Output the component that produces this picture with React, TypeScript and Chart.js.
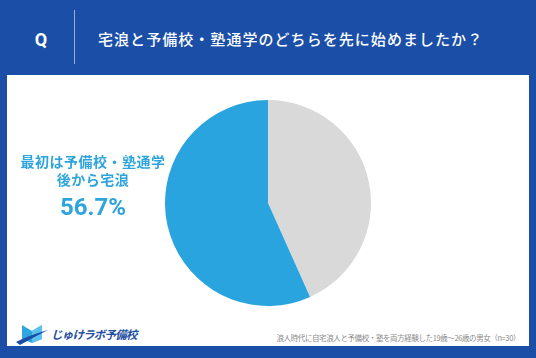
import React, { useEffect, useRef } from "react";
import { Chart, registerables } from "chart.js";

Chart.register(...registerables);

const categories = ["最初は自宅浪人、後から予備校・塾通学", "最初は予備校・塾通学、後から宅浪"];
const values = [43.3, 56.7];
const colors = ["#d9d9d9", "#29a4df"];
const titleText = "宅浪と予備校・塾通学のどちらを先に始めましたか？";
const labelLine1 = "最初は予備校・塾通学";
const labelLine2 = "後から宅浪";
const labelValue = "56.7%";
const footnote = "浪人時代に自宅浪人と予備校・塾を両方経験した19歳～26歳の男女（n=30）";
const brand = "じゅけラボ予備校";

const JP = '"Noto Sans CJK JP", "Noto Sans", sans-serif';

export default function App() {
  const ref = useRef<HTMLCanvasElement | null>(null);
  useEffect(() => {
    if (!ref.current) return;
    const chart = new Chart(ref.current, {
      type: "pie",
      data: {
        labels: categories,
        datasets: [
          {
            data: values,
            backgroundColor: colors,
            borderWidth: 0,
          },
        ],
      },
      options: {
        responsive: false,
        animation: false,
        layout: { padding: 0 },
        plugins: { legend: { display: false }, tooltip: { enabled: false } },
      },
    });
    return () => chart.destroy();
  }, []);

  return (
    <div
      style={{
        position: "fixed",
        left: 0,
        top: 0,
        width: 536,
        height: 358,
        background: "#1a4ea7",
        overflow: "hidden",
        fontFamily: JP,
      }}
    >
      <div
        style={{
          position: "absolute",
          left: 29,
          top: 29,
          width: 24,
          height: 22,
          lineHeight: "22px",
          textAlign: "center",
          color: "#fff",
          fontFamily: "Roboto, sans-serif",
          fontWeight: 700,
          fontSize: 18,
        }}
      >
        Q
      </div>
      <div
        style={{
          position: "absolute",
          left: 74,
          top: 10,
          width: 1,
          height: 54,
          background: "rgba(255,255,255,0.55)",
        }}
      />
      <div
        style={{
          position: "absolute",
          left: 98,
          top: 28,
          height: 22,
          lineHeight: "22px",
          color: "#fff",
          fontSize: 15,
          fontWeight: 500,
          letterSpacing: "1.05px",
          whiteSpace: "nowrap",
        }}
      >
        {titleText}
      </div>
      <div
        style={{
          position: "absolute",
          left: 7,
          top: 75,
          width: 522,
          height: 271,
          background: "#fff",
        }}
      />
      <canvas
        ref={ref}
        width={206}
        height={206}
        style={{ position: "absolute", left: 165, top: 100, width: 206, height: 206 }}
      />
      <div
        style={{
          position: "absolute",
          left: 13,
          top: 152,
          width: 160,
          textAlign: "center",
          color: "#2ea4dd",
          fontWeight: 700,
          fontSize: 14,
          lineHeight: "18px",
          letterSpacing: "0.5px",
          whiteSpace: "nowrap",
        }}
      >
        <div>{labelLine1}</div>
        <div>{labelLine2}</div>
        <div
          style={{
            fontFamily: "Roboto, sans-serif",
            fontSize: 24,
            lineHeight: "30px",
            marginTop: 4,
            letterSpacing: "0px",
          }}
        >
          {labelValue}
        </div>
      </div>
      <svg
        style={{ position: "absolute", left: 14, top: 322 }}
        width={36}
        height={24}
        viewBox="0 0 36 24"
      >
        <path d="M8 3 L18 9 L28 3 L28 17 L18 21 L8 17 Z" fill="#2fa6e0" />
        <path d="M18 9 L28 3 L28 17 L18 21 Z" fill="#5bc0ee" />
        <path d="M2 20 Q16 13 34 8 Q20 15 6 23 Z" fill="#1a4ea7" />
      </svg>
      <div
        style={{
          position: "absolute",
          left: 51,
          top: 326,
          lineHeight: "16px",
          fontSize: 11.5,
          fontWeight: 700,
          fontStyle: "italic",
          color: "#1f4f9f",
          whiteSpace: "nowrap",
          letterSpacing: "-0.8px",
        }}
      >
        {brand}
      </div>
      <div
        style={{
          position: "absolute",
          right: 16,
          top: 332,
          lineHeight: "12px",
          fontSize: 7.5,
          color: "#8a8a8a",
          whiteSpace: "nowrap",
          letterSpacing: "-0.4px",
        }}
      >
        {footnote}
      </div>
    </div>
  );
}
